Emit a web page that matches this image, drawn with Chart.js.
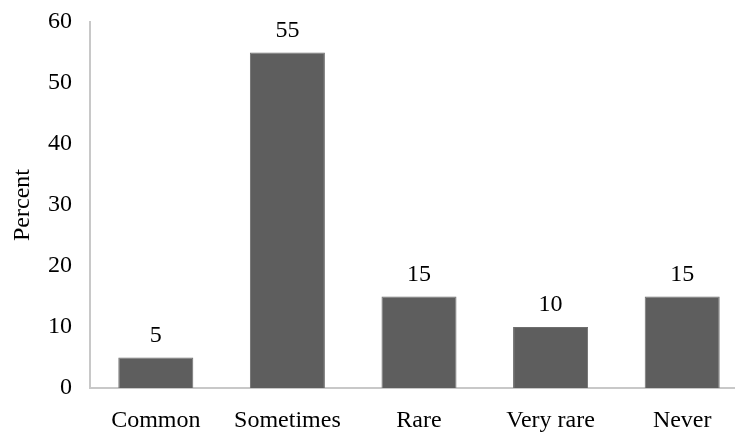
<!DOCTYPE html>
<html>
<head>
<meta charset="utf-8">
<script src="https://cdn.jsdelivr.net/npm/chart.js@4"></script>
<style>
  html, body { margin: 0; padding: 0; background: #fff; overflow: hidden; }
  #wrap { width: 748px; height: 432px; }
</style>
</head>
<body>
<div id="wrap"><canvas id="freqChart" width="748" height="432"></canvas></div>
<script>
const categories = ['Common', 'Sometimes', 'Rare', 'Very rare', 'Never'];
const percentValues = [5, 55, 15, 10, 15];
const yTicks = [0, 10, 20, 30, 40, 50, 60];

const FONT = "'Liberation Serif', 'Times New Roman', serif";

// draws the value above each bar
const valueLabels = {
  id: 'valueLabels',
  afterDatasetsDraw(chart) {
    const ctx = chart.ctx;
    const meta = chart.getDatasetMeta(0);
    ctx.save();
    ctx.font = '24px ' + FONT;
    ctx.fillStyle = '#000';
    ctx.textAlign = 'center';
    ctx.textBaseline = 'middle';
    meta.data.forEach(function (bar, i) {
      ctx.fillText(String(percentValues[i]), bar.x, bar.y - 22);
    });
    ctx.restore();
  }
};

const ctx = document.getElementById('freqChart').getContext('2d');
const freqChart = new Chart(ctx, {
  type: 'bar',
  data: {
    labels: categories,
    datasets: [{
      data: percentValues,
      backgroundColor: '#5e5e5e',
      borderColor: '#6e6e6e',
      borderWidth: 1,
      barPercentage: 0.57,
      categoryPercentage: 1
    }]
  },
  options: {
    responsive: false,
    animation: false,
    layout: { padding: { top: 22, right: 0, left: 8, bottom: 0 } },
    plugins: {
      legend: { display: false },
      tooltip: { enabled: false }
    },
    scales: {
      x: {
        grid: { display: false, drawTicks: false },
        border: { color: '#c8c8c8', width: 2 },
        ticks: {
          color: '#000',
          font: { family: FONT, size: 24 },
          padding: 18,
          maxRotation: 0
        },
        afterFit: function (s) { s.height = 44; }
      },
      y: {
        min: 0,
        max: 60,
        afterBuildTicks: function (s) { s.ticks = yTicks.map(v => ({ value: v })); },
        grid: { display: false, drawTicks: false },
        border: { color: '#c8c8c8', width: 2 },
        ticks: {
          color: '#000',
          font: { family: FONT, size: 24 },
          padding: 18
        },
        title: {
          display: true,
          text: 'Percent',
          color: '#000',
          font: { family: FONT, size: 24 },
          padding: 0
        },
        afterFit: function (s) { s.width = 82; s.paddingTop = 0; s.paddingBottom = 0; }
      }
    }
  },
  plugins: [valueLabels]
});
</script>
</body>
</html>
